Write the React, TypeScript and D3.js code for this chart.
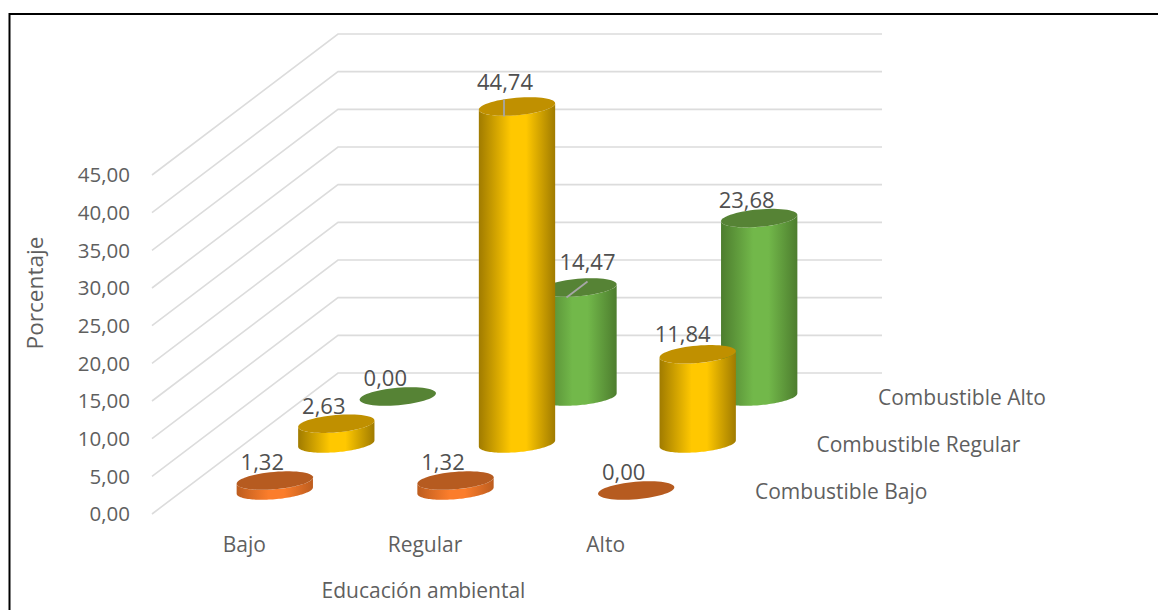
import React from "react";
import * as d3 from "d3";

// Survey shares, one array per fuel-use level, ordered as the education categories.
const categories = ["Bajo", "Regular", "Alto"];
const seriesNames = ["Combustible Bajo", "Combustible Regular", "Combustible Alto"];
const combustibleBajo = [1.32, 1.32, 0.0];
const combustibleRegular = [2.63, 44.74, 11.84];
const combustibleAlto = [0.0, 14.47, 23.68];
const seriesValues = [combustibleBajo, combustibleRegular, combustibleAlto];
const yTicks = [0, 5, 10, 15, 20, 25, 30, 35, 40, 45];

const palettes = [
  { id: "naranja", edge: "#bd5d1f", mid: "#fb7d2b", top: "#b65b20" },
  { id: "amarillo", edge: "#a07b00", mid: "#ffc800", top: "#c09000" },
  { id: "verde", edge: "#4d7d2e", mid: "#72b84a", top: "#568335" },
];

const FONT = "'Open Sans', sans-serif";
const TEXT = "#5f5f5f";

// Oblique projection: floor position comes from category and depth row, height from value.
const heightPx = d3.scaleLinear().domain([0, 45]).range([0, 339]);
const catX = d3.scaleLinear().domain([0, 2]).range([274.8, 636.2]);
const rowDx = d3.scaleLinear().domain([0, 2]).range([0, 123]);
const rowY = d3.scaleLinear().domain([0, 2]).range([490.5, 396.5]);
const wallLeft = d3.scaleLinear().domain([0, 45]).range([514, 175]);
const wallBack = d3.scaleLinear().domain([0, 45]).range([373, 34]);

// Cross-section of a cylinder as seen from above, slightly tilted.
const RX = 38.3;
const RY = 8.7;
const TILT = (-5 * Math.PI) / 180;
const ellipsePoint = (cx: number, cy: number, t: number): [number, number] => {
  const ex = RX * Math.cos(t);
  const ey = RY * Math.sin(t);
  return [
    cx + ex * Math.cos(TILT) - ey * Math.sin(TILT),
    cy + ex * Math.sin(TILT) + ey * Math.cos(TILT),
  ];
};
// Parameter at which the outline reaches its rightmost x.
const tRight = Math.atan2(-RY * Math.sin(TILT), RX * Math.cos(TILT));
const outline = d3.line();
const sweep = (cx: number, cy: number, from: number, to: number) =>
  d3.range(0, 61).map((i) => ellipsePoint(cx, cy, from + ((to - from) * i) / 60));

const topPath = (cx: number, cy: number) =>
  (outline(sweep(cx, cy, 0, Math.PI * 2)) as string) + "Z";
const bodyPath = (cx: number, baseY: number, topY: number) =>
  (outline([
    ...sweep(cx, baseY, tRight, tRight + Math.PI),
    ...sweep(cx, topY, tRight + Math.PI, tRight),
  ]) as string) + "Z";

// Label shifts for the bars whose text sits away from the default spot.
const labelShift = (row: number, cat: number): [number, number] => {
  if (row === 1 && cat === 1) return [-12, -24];
  if (row === 2 && cat === 1) return [9, -25];
  if (row === 1 && cat === 2) return [-15, -20];
  return [-12.5, -18];
};

export default function App() {
  const rows = d3.range(seriesValues.length).reverse();
  return (
    <svg
      width={1158}
      height={610}
      style={{ position: "absolute", left: 0, top: 0, background: "#fff" }}
      fontFamily={FONT}
    >
      <defs>
        {palettes.map((p) => (
          <linearGradient key={p.id} id={p.id} x1="0" x2="1" y1="0" y2="0">
            <stop offset="0" stopColor={p.edge} />
            <stop offset="0.42" stopColor={p.mid} />
            <stop offset="0.62" stopColor={p.mid} />
            <stop offset="1" stopColor={p.edge} />
          </linearGradient>
        ))}
      </defs>

      {/* Frame: only the top and left edges fall inside the canvas */}
      <path d="M9.5 610V14H1158" fill="none" stroke="#000" strokeWidth={2} />

      {/* Side wall and back wall gridlines */}
      {yTicks.map((t) => (
        <polyline
          key={t}
          points={`152,${wallLeft(t)} 338,${wallBack(t)} 882,${wallBack(t)}`}
          fill="none"
          stroke="#dcdcdc"
          strokeWidth={1.6}
        />
      ))}

      {/* Value axis */}
      {yTicks.map((t) => (
        <text
          key={t}
          x={130}
          y={wallLeft(t)}
          dy="0.36em"
          textAnchor="end"
          fontSize={20.5}
          fill={TEXT}
        >
          {d3.format(".2f")(t).replace(".", ",")}
        </text>
      ))}
      <text
        transform="translate(35,293) rotate(-90)"
        textAnchor="middle"
        dy="0.36em"
        fontSize={22.6}
        fill={TEXT}
      >
        Porcentaje
      </text>

      {/* Cylinders, back row first so nearer ones overlap */}
      {rows.map((row) =>
        categories.map((_, cat) => {
          const v = seriesValues[row][cat];
          const cx = catX(cat) + rowDx(row);
          const base = rowY(row);
          const top = base - heightPx(v);
          const p = palettes[row];
          return (
            <g key={`${row}-${cat}`}>
              {v > 0 && <path d={bodyPath(cx, base, top)} fill={`url(#${p.id})`} />}
              <path d={topPath(cx, top)} fill={p.top} />
            </g>
          );
        })
      )}

      {/* Leader lines from the two displaced labels */}
      <line
        x1={catX(1) + rowDx(1) - 13}
        y1={rowY(1) - heightPx(44.74) - 7}
        x2={catX(1) + rowDx(1) - 13}
        y2={rowY(1) - heightPx(44.74) + 10}
        stroke="#a6a6a6"
        strokeWidth={1.8}
      />
      <line
        x1={catX(1) + rowDx(2) + 9}
        y1={rowY(2) - heightPx(14.47) - 6}
        x2={catX(1) + rowDx(2) - 12}
        y2={rowY(2) - heightPx(14.47) + 10}
        stroke="#a6a6a6"
        strokeWidth={1.8}
      />

      {/* Value labels */}
      {rows.map((row) =>
        categories.map((_, cat) => {
          const v = seriesValues[row][cat];
          const [dx, dy] = labelShift(row, cat);
          return (
            <text
              key={`l${row}-${cat}`}
              x={catX(cat) + rowDx(row) + dx}
              y={rowY(row) - heightPx(v) + dy}
              dy="0.36em"
              textAnchor="middle"
              fontSize={22}
              fill="#505050"
            >
              {d3.format(".2f")(v).replace(".", ",")}
            </text>
          );
        })
      )}

      {/* Category and depth axis labels */}
      {categories.map((c, i) => (
        <text
          key={c}
          x={catX(i) - 30.5}
          y={544}
          dy="0.36em"
          textAnchor="middle"
          fontSize={21}
          fill={TEXT}
        >
          {c}
        </text>
      ))}
      {seriesNames.map((s, row) => (
        <text
          key={s}
          x={755 + rowDx(row)}
          y={rowY(row) + 0.5}
          dy="0.36em"
          fontSize={21}
          fill={TEXT}
        >
          {s}
        </text>
      ))}
      <text x={423.5} y={590} dy="0.36em" textAnchor="middle" fontSize={21} fill={TEXT}>
        Educación ambiental
      </text>
    </svg>
  );
}
